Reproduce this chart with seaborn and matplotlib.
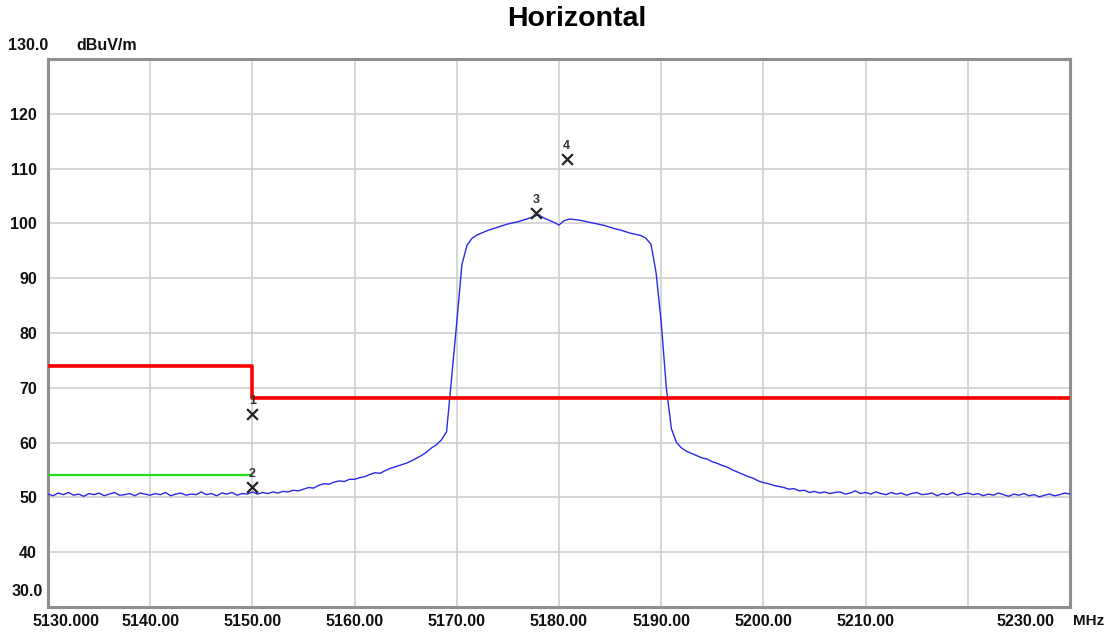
#Horizontal band edge scan, recreated with seaborn

import matplotlib
matplotlib.use('Agg')
import matplotlib.pyplot as plt
import matplotlib.transforms as mtrans
import numpy as np
import pandas as pd
import seaborn as sb

#Trace data: level in dBuV/m every 0.5 MHz from 5130 to 5230 MHz
trace_level = [
    50.6, 50.3, 50.8, 50.5, 50.9, 50.4, 50.6, 50.2, 50.7, 50.5,   # 5130
    50.8, 50.3, 50.6, 50.9, 50.4, 50.5, 50.7, 50.3, 50.8, 50.6,   # 5135
    50.4, 50.7, 50.5, 50.9, 50.3, 50.6, 50.8, 50.4, 50.6, 50.5,   # 5140
    51.0, 50.5, 50.7, 50.3, 50.8, 50.6, 50.9, 50.4, 50.7, 50.6,   # 5145
    51.0, 50.6, 50.9, 50.7, 51.0, 50.8, 51.1, 51.0, 51.3, 51.2,   # 5150
    51.5, 51.8, 51.7, 52.2, 52.5, 52.4, 52.8, 53.0, 52.9, 53.3,   # 5155
    53.3, 53.6, 53.8, 54.2, 54.5, 54.4, 54.9, 55.3, 55.6, 55.9,   # 5160
    56.2, 56.6, 57.1, 57.6, 58.2, 59.0, 59.6, 60.5, 62.0, 72.0,   # 5165
    82.0, 92.5, 96.0, 97.3, 97.9, 98.3, 98.7, 99.0, 99.3, 99.6,   # 5170
    99.9, 100.1, 100.3, 100.6, 100.9, 101.2, 101.6, 101.0, 100.6, 100.2,  # 5175
    99.7, 100.5, 100.8, 100.7, 100.6, 100.4, 100.2, 100.0, 99.8, 99.6,    # 5180
    99.3, 99.0, 98.8, 98.5, 98.2, 98.0, 97.8, 97.3, 96.2, 91.0,   # 5185
    82.0, 70.0, 62.5, 60.0, 59.0, 58.4, 58.0, 57.6, 57.2, 57.0,   # 5190
    56.5, 56.2, 55.8, 55.5, 55.0, 54.6, 54.2, 53.8, 53.5, 53.0,   # 5195
    52.7, 52.5, 52.2, 52.0, 51.8, 51.5, 51.6, 51.2, 51.3, 50.9,   # 5200
    51.1, 50.8, 51.0, 50.7, 50.9, 51.0, 50.6, 50.8, 51.2, 50.7,   # 5205
    50.9, 50.6, 51.0, 50.7, 50.5, 50.9, 50.6, 50.8, 50.4, 50.7,   # 5210
    50.9, 50.5, 50.6, 50.8, 50.3, 50.7, 50.5, 50.9, 50.4, 50.6,   # 5215
    50.8, 50.5, 50.7, 50.3, 50.6, 50.4, 50.8, 50.5, 50.2, 50.6,   # 5220
    50.4, 50.7, 50.3, 50.5, 50.1, 50.4, 50.6, 50.3, 50.5, 50.8,   # 5225
    50.6,                                                         # 5230
]
trace_freq = np.linspace(5130, 5230, len(trace_level))

#Limit lines
peak_limit_freq = [5130, 5150, 5150, 5230]
peak_limit_level = [74.0, 74.0, 68.2, 68.2]
avg_limit_freq = [5130, 5150]
avg_limit_level = [54.0, 54.0]

#Markers
marker_freq = [5150.0, 5150.0, 5177.75, 5180.75]
marker_level = [65.2, 51.9, 101.9, 111.8]
marker_label = ['1', '2', '3', '4']

#Axis ticks
x_ticks = [5140, 5150, 5160, 5170, 5180, 5190, 5200, 5210, 5220]
x_tick_labels = ['5140.00', '5150.00', '5160.00', '5170.00', '5180.00',
                 '5190.00', '5200.00', '5210.00', '']
y_ticks = [40, 50, 60, 70, 80, 90, 100, 110, 120]

sb.set_style('white')
plt.rcParams['font.family'] = ['Liberation Sans', 'DejaVu Sans']
plt.rcParams['text.color'] = '#111111'

fig = plt.figure(figsize=(11.11, 6.34), dpi=100)
ax = fig.add_axes([48 / 1111, 27 / 634, 1022 / 1111, 548 / 634])

df_trace = pd.DataFrame({'freq': trace_freq, 'level': trace_level})
sb.lineplot(data=df_trace, x='freq', y='level', ax=ax, color='#2a2ae6',
            linewidth=1.0, estimator=None, sort=False, zorder=3)
sb.lineplot(x=peak_limit_freq, y=peak_limit_level, ax=ax, color='#ff0000',
            linewidth=2.6, estimator=None, sort=False, zorder=4)
sb.lineplot(x=avg_limit_freq, y=avg_limit_level, ax=ax, color='#22dd22',
            linewidth=1.6, estimator=None, sort=False, zorder=4)
sb.scatterplot(x=marker_freq, y=marker_level, ax=ax, marker='x', s=60,
               color='#222222', linewidth=1.6, zorder=5)
for fx, fy, lab in zip(marker_freq, marker_level, marker_label):
    ax.annotate(lab, (fx, fy), xytext=(0, 5), textcoords='offset points',
                ha='center', va='bottom', fontsize=9, fontweight='bold',
                color='#333333', zorder=6)

ax.set_xlim(5130, 5230)
ax.set_ylim(30, 130)
ax.set_xticks(x_ticks)
ax.set_xticklabels(x_tick_labels)
ax.set_yticks(y_ticks)
ax.set_yticklabels([str(v) for v in y_ticks])
ax.tick_params(axis='both', length=0, labelsize=11.5, colors='#111111')
ax.tick_params(axis='x', pad=5)
ax.tick_params(axis='y', pad=8)
for lab in ax.get_xticklabels() + ax.get_yticklabels():
    lab.set_fontweight('bold')
ax.grid(True, color='#cfcfcf', linewidth=1.2)
for sp in ax.spines.values():
    sp.set_color('#8f8f8f')
    sp.set_linewidth(2.2)
ax.set_xlabel('')
ax.set_ylabel('')

#Extra axis texts placed like the instrument printout
bx = mtrans.blended_transform_factory(ax.transData, ax.transAxes)
ax.text(5128.5, -0.013, '5130.000', transform=bx, ha='left', va='top',
        fontsize=11.5, fontweight='bold')
ax.text(5225.6, -0.013, '5230.00', transform=bx, ha='center', va='top',
        fontsize=11.5, fontweight='bold')
ax.text(5231.8, -0.013, 'MHz', transform=bx, ha='center', va='top',
        fontsize=11, fontweight='bold')
fig.text(43 / 1111, 1 - 592 / 634, '30.0', ha='right', va='center',
         fontsize=11.5, fontweight='bold')
fig.text(8 / 1111, 1 - 45 / 634, '130.0', ha='left', va='center',
         fontsize=11.5, fontweight='bold')
fig.text(107 / 1111, 1 - 45 / 634, 'dBuV/m', ha='center', va='center',
         fontsize=11.5, fontweight='bold')

fig.text(577 / 1111, 1 - 19 / 634, 'Horizontal', ha='center', va='center',
         fontsize=20.5, fontweight='bold', color='black')

fig.savefig('out.png', dpi=100)
